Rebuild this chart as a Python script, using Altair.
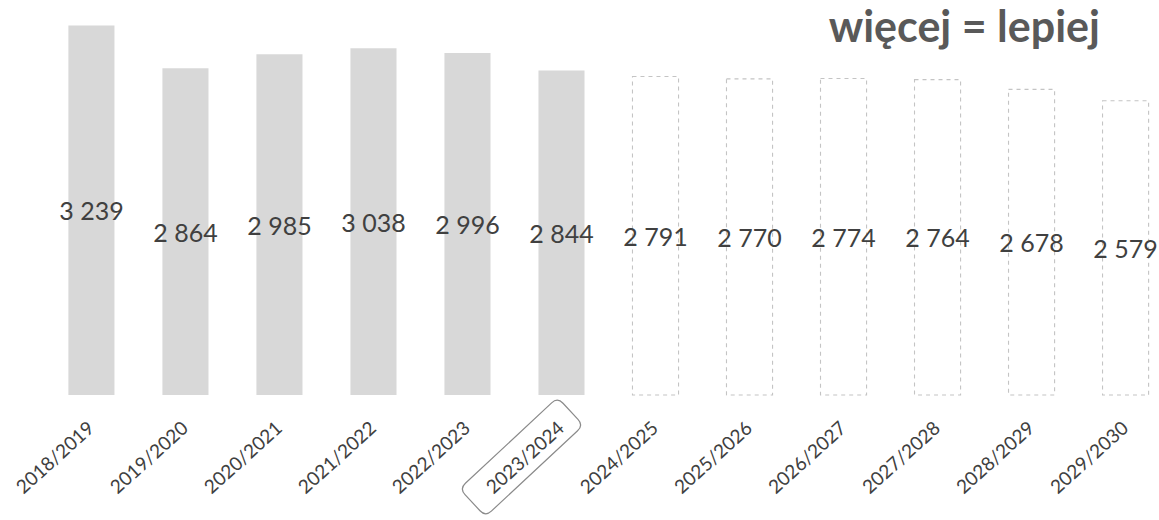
import altair as alt
import pandas as pd

# School years and pupil counts (first six reported, the rest projected)
seasons = [
    "2018/2019", "2019/2020", "2020/2021", "2021/2022", "2022/2023", "2023/2024",
    "2024/2025", "2025/2026", "2026/2027", "2027/2028", "2028/2029", "2029/2030",
]
values = [3239, 2864, 2985, 3038, 2996, 2844, 2791, 2770, 2774, 2764, 2678, 2579]
status = ["actual"] * 6 + ["forecast"] * 6
current_season = ["2023/2024"]
headline = "więcej = lepiej"

df = pd.DataFrame({"season": seasons, "value": values, "status": status})
df["label"] = [f"{v:,}".replace(",", " ") for v in df["value"]]
hl = pd.DataFrame({"season": current_season})

FONT = "Lato"
TEXT = "#404040"

x_enc = alt.X(
    "season:N",
    sort=seasons,
    scale=alt.Scale(paddingInner=0.51, paddingOuter=0.1),
    axis=alt.Axis(
        title=None,
        domain=False,
        ticks=False,
        labelAngle=318,
        labelAlign="right",
        labelBaseline="middle",
        labelPadding=30,
        labelFont=FONT,
        labelFontSize=19,
        labelColor=TEXT,
    ),
)
y_scale = alt.Scale(domain=[0, 3330], nice=False)

base = alt.Chart(df)

actual = base.transform_filter(alt.datum.status == "actual").mark_bar(
    color="#d8d8d8"
).encode(x=x_enc, y=alt.Y("value:Q", scale=y_scale, axis=None))

forecast = base.transform_filter(alt.datum.status == "forecast").mark_bar(
    fill="white", stroke="#c4c4c4", strokeWidth=1.1, strokeDash=[4, 4]
).encode(x=x_enc, y=alt.Y("value:Q", scale=y_scale, axis=None))

labels = base.transform_calculate(mid="datum.value / 2").mark_text(
    font=FONT, fontSize=25, color=TEXT, baseline="middle", dy=2
).encode(
    x=alt.X("season:N", sort=seasons),
    y=alt.Y("mid:Q", scale=y_scale, axis=None),
    text="label:N",
)

# Rounded frame drawn around the current school year's tick label
frame_path = (
    "M -0.88 -0.284 L 0.88 -0.284 Q 1 -0.284 1 -0.164 L 1 0.164 "
    "Q 1 0.284 0.88 0.284 L -0.88 0.284 Q -1 0.284 -1 0.164 "
    "L -1 -0.164 Q -1 -0.284 -0.88 -0.284 Z"
)
frame = alt.Chart(hl).mark_point(
    shape=frame_path,
    size=17956,
    angle=317,
    filled=False,
    stroke="#8a8a8a",
    strokeWidth=1.2,
    opacity=1,
    xOffset=-40,
).encode(x=alt.X("season:N", sort=seasons), y=alt.value(442))

chart = (
    alt.layer(actual, forecast, labels, frame)
    .properties(
        width=1099,
        height=380,
        background="white",
        autosize=alt.AutoSizeParams(type="none"),
        padding={"left": 59, "top": 15, "right": 1, "bottom": 125},
        title=alt.TitleParams(
            headline,
            anchor="end",
            font=FONT,
            fontSize=43,
            fontWeight="bold",
            color="#595959",
            baseline="alphabetic",
            offset=0,
            dx=-58,
            dy=70,
        ),
    )
    .configure_view(stroke=None)
)

chart.save("out.html", embed_options={"renderer": "svg", "actions": False})
